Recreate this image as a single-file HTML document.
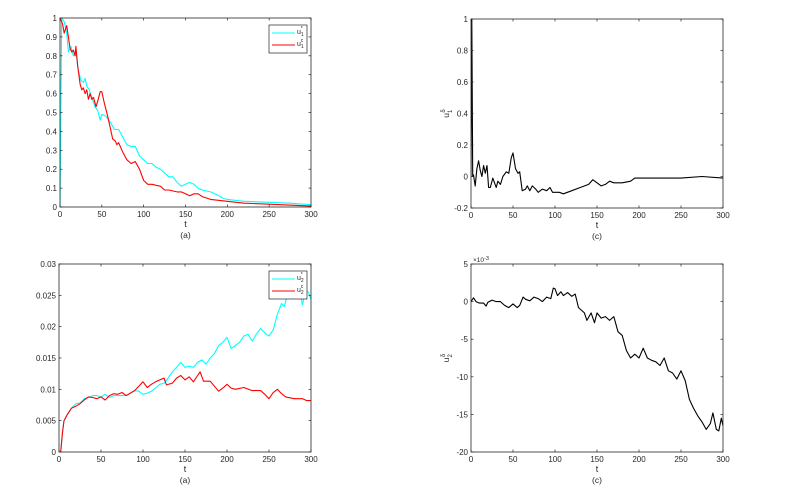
<!DOCTYPE html>
<html><head><meta charset="utf-8"><style>
body{margin:0;background:#fff;}
svg{display:block;font-family:"Liberation Sans",sans-serif;}
</style></head><body>
<svg id="c" width="792" height="499" viewBox="0 0 792 499"></svg>
<script>
const tTicks=[0,50,100,150,200,250,300];
const u1StarT=[0,1,2,5,8,10,13,16,19,22,25,28,30,32,35,38,42,45,48,50,55,60,65,70,75,80,85,90,95,100,105,110,115,120,125,130,135,140,145,150,155,160,165,170,180,190,195,200,220,250,275,300];
const u1StarV=[0,0.5,1,0.98,0.92,0.82,0.85,0.8,0.82,0.72,0.67,0.66,0.68,0.64,0.62,0.58,0.53,0.51,0.46,0.49,0.48,0.45,0.41,0.41,0.37,0.33,0.32,0.32,0.27,0.25,0.23,0.23,0.21,0.2,0.18,0.16,0.16,0.13,0.11,0.12,0.13,0.12,0.1,0.09,0.08,0.06,0.045,0.04,0.03,0.025,0.02,0.012];
const u1cT=[0,3,5,8,10,12,14,16,18,19,21,24,26,28,30,32,34,36,38,40,43,45,48,50,53,57,60,63,66,68,70,75,80,85,90,95,100,105,110,115,120,125,130,140,145,150,155,160,165,170,180,200,220,250,300];
const u1cV=[1,0.97,0.92,0.96,0.9,0.84,0.82,0.83,0.8,0.85,0.75,0.65,0.62,0.63,0.6,0.62,0.57,0.6,0.57,0.58,0.53,0.56,0.61,0.61,0.55,0.48,0.42,0.36,0.35,0.33,0.34,0.29,0.25,0.23,0.24,0.2,0.14,0.12,0.12,0.115,0.11,0.09,0.09,0.08,0.08,0.07,0.06,0.07,0.07,0.055,0.04,0.03,0.02,0.015,0.005];
const u2StarT=[0,2,4,6,10,15,20,25,30,35,40,45,50,55,60,65,70,80,90,95,100,105,110,115,120,125,130,135,140,145,150,155,160,165,170,175,180,185,190,195,200,205,210,215,220,225,230,235,240,245,250,255,260,265,268,272,275,280,285,290,293,297,300];
const u2StarV=[0,0,0.003,0.005,0.006,0.007,0.0077,0.0078,0.0085,0.0087,0.009,0.009,0.0088,0.0092,0.0087,0.009,0.009,0.009,0.0098,0.0097,0.0092,0.0094,0.0097,0.0102,0.0108,0.011,0.0118,0.0128,0.0135,0.0143,0.0135,0.0137,0.0135,0.0143,0.0147,0.014,0.015,0.0157,0.017,0.0175,0.0183,0.0165,0.017,0.0175,0.0185,0.0188,0.0177,0.0188,0.0197,0.019,0.0185,0.0195,0.022,0.0237,0.0232,0.025,0.0262,0.0255,0.0262,0.0235,0.0258,0.0255,0.0243];
const u2cT=[0,2,4,6,10,15,20,25,30,35,40,45,50,55,60,65,70,75,80,90,95,100,105,110,115,120,125,128,135,140,145,150,155,160,165,168,172,180,185,190,195,200,205,210,220,230,240,245,250,255,260,265,270,280,290,295,300];
const u2cV=[0,0,0.003,0.005,0.006,0.007,0.0073,0.0077,0.0083,0.0088,0.0087,0.0085,0.0088,0.0083,0.009,0.0093,0.0092,0.0095,0.009,0.0098,0.0105,0.0112,0.0103,0.0108,0.0112,0.0115,0.0118,0.0107,0.011,0.0118,0.0122,0.0115,0.012,0.0112,0.0122,0.0128,0.0113,0.0113,0.0105,0.0097,0.0102,0.0108,0.0102,0.01,0.0103,0.0098,0.0098,0.0092,0.0085,0.0095,0.01,0.0093,0.0088,0.0085,0.0085,0.0082,0.0082];
const u1dT=[0,1,2,3,5,7,9,11,13,15,17,19,21,23,26,28,30,32,35,38,42,45,48,50,53,56,58,61,65,67,70,73,77,80,85,90,94,97,105,110,120,130,140,145,150,155,160,165,170,180,190,195,220,250,275,300];
const u1dV=[0,1,0,0.01,-0.06,0.05,0.1,0.04,0,0.07,0.02,0.07,-0.07,-0.07,-0.01,-0.04,-0.07,-0.03,-0.05,0,0.03,0.02,0.12,0.15,0.05,0.02,0.03,-0.09,-0.08,-0.06,-0.09,-0.06,-0.08,-0.1,-0.08,-0.09,-0.07,-0.1,-0.1,-0.11,-0.09,-0.07,-0.05,-0.02,-0.04,-0.06,-0.05,-0.03,-0.04,-0.04,-0.03,-0.01,-0.01,-0.01,0,-0.01];
const u2dT=[0,3,6,10,15,18,20,25,30,35,40,45,50,55,58,62,65,70,75,80,85,90,95,98,100,103,107,110,115,120,124,128,132,135,138,143,147,150,155,160,165,170,175,180,185,190,195,200,205,210,215,220,225,230,235,240,245,250,255,260,265,270,275,280,285,288,292,295,298,300];
const u2dV=[0,0.5,0,-0.2,-0.2,-0.6,-0.1,0.2,0,0,-0.5,-0.8,-0.3,-0.8,-0.5,0.6,0.3,0.1,0.6,0.4,0,0.6,0.4,1.8,1.7,0.8,1.3,0.8,1.2,0.7,1.0,-0.8,-1.2,-1.5,-2.5,-1.5,-2.8,-1.5,-2.2,-2.0,-2.5,-2.0,-4,-4.5,-6.5,-7.5,-7.0,-7.5,-6.2,-7.5,-7.8,-8,-8.5,-7.5,-9.2,-9.5,-10.3,-9.2,-10.5,-13,-14.2,-15.2,-16,-17,-16.2,-14.8,-17,-17.2,-15.5,-16.5];
const y1Ticks=[0,0.1,0.2,0.3,0.4,0.5,0.6,0.7,0.8,0.9,1];
const y1Labels=["0","0.1","0.2","0.3","0.4","0.5","0.6","0.7","0.8","0.9","1"];
const y2Ticks=[0,0.005,0.01,0.015,0.02,0.025,0.03];
const y2Labels=["0","0.005","0.01","0.015","0.02","0.025","0.03"];
const y3Ticks=[-0.2,0,0.2,0.4,0.6,0.8,1];
const y3Labels=["-0.2","0","0.2","0.4","0.6","0.8","1"];
const y4Ticks=[-20,-15,-10,-5,0,5];
const y4Labels=["-20","-15","-10","-5","0","5"];

const NS="http://www.w3.org/2000/svg";
const svg=document.getElementById('c');
function mk(tag,attrs,parent,text){const e=document.createElementNS(NS,tag);for(const k in attrs)e.setAttribute(k,attrs[k]);if(text!==undefined)e.textContent=text;(parent||svg).appendChild(e);return e;}

function panel(id,box,ymin,ymax,yt,yl,series,opts){
  const g=mk('g',{});
  
  
  const [x0,y0,x1,y1]=box;
  const sx=t=>x0+(t-0)/300*(x1-x0);
  const sy=v=>y1-(v-ymin)/(ymax-ymin)*(y1-y0);
  const r=mk('rect',{x:x0,y:y0,width:x1-x0,height:y1-y0,fill:'#fff',stroke:'none'},g);
  
  
  const cp='cp'+id;
  const d=mk('defs',{},g);const c=mk('clipPath',{id:cp},d);mk('rect',{x:x0,y:y0,width:x1-x0,height:y1-y0},c);
  series.forEach(s=>{
    const pts=s.t.map((t,i)=>sx(t).toFixed(1)+','+sy(s.v[i]).toFixed(1)).join(' ');
    const p=mk('polyline',{points:pts,fill:'none',stroke:s.color,'stroke-width':1.1,'stroke-linejoin':'round','clip-path':'url(#'+cp+')'},g);
    
    
  });
  mk('rect',{x:x0,y:y0,width:x1-x0,height:y1-y0,fill:'none',stroke:'#262626','stroke-width':0.8},g);
  const xa=mk('g',{},g);
  
  
  tTicks.forEach(t=>{
    const x=sx(t);
    mk('line',{x1:x,x2:x,y1:y1,y2:y1-2.5,stroke:'#262626','stroke-width':0.7},xa);
    mk('line',{x1:x,x2:x,y1:y0,y2:y0+2.5,stroke:'#262626','stroke-width':0.7},xa);
    mk('text',{x:x,y:y1+10,'font-size':8,'text-anchor':'middle',fill:'#262626'},xa,String(t));
  });
  const xt=mk('text',{x:(x0+x1)/2,y:y1+20,'font-size':9,'text-anchor':'middle',fill:'#262626'},g,'t');
  
  
  const cap=mk('text',{x:(x0+x1)/2,y:y1+31,'font-size':8.5,'text-anchor':'middle',fill:'#262626'},g,opts.caption);
  
  
  const ya=mk('g',{},g);
  
  
  yt.forEach((v,i)=>{
    const y=sy(v);
    mk('line',{x1:x0,x2:x0+2.5,y1:y,y2:y,stroke:'#262626','stroke-width':0.7},ya);
    mk('line',{x1:x1,x2:x1-2.5,y1:y,y2:y,stroke:'#262626','stroke-width':0.7},ya);
    mk('text',{x:x0-3,y:y+3,'font-size':8,'text-anchor':'end',fill:'#262626'},ya,yl[i]);
  });
  if(opts.ylabel){
    const yx=x0-22,yy=(y0+y1)/2;
    const t=mk('text',{x:0,y:0,'font-size':8.5,fill:'#262626',transform:`translate(${yx},${yy}) rotate(-90)`,'text-anchor':'middle'},g);
    
    
    mk('tspan',{},t,'u');
    mk('tspan',{'font-size':6,dy:3},t,opts.ylabel);
    mk('tspan',{'font-size':6,dy:-7,dx:-3},t,'δ');
  }
  if(opts.exp){
    const e=mk('text',{x:x0+2,y:y0-2,'font-size':6.5,fill:'#262626'},g,'×10');
    
    
    mk('tspan',{'font-size':5.5,dy:-2},e,'-3');
  }
  if(opts.legend){
    const lg=mk('g',{},g);
    
    
    const lx=x1-42,ly=y0+7;
    mk('rect',{x:lx,y:ly,width:38,height:28,fill:'#fff',stroke:'#262626','stroke-width':0.7},lg);
    opts.legend.forEach((L,i)=>{
      const yy=ly+8+i*12;
      mk('line',{x1:lx+3,x2:lx+26,y1:yy,y2:yy,stroke:L.color,'stroke-width':1.1},lg);
      const tx=mk('text',{x:lx+28,y:yy+1,'font-size':7,fill:'#262626'},lg,'u');
      mk('tspan',{'font-size':5,dy:2},tx,L.sub);
      mk('tspan',{'font-size':5,dy:-6,dx:-3},tx,L.sup);
    });
  }
}
panel('panel-u1',[60,18,311,207],0,1,y1Ticks,y1Labels,
  [{t:u1StarT,v:u1StarV,color:'#00ffff',name:'u1-star-line'},{t:u1cT,v:u1cV,color:'#ff0000',name:'u1-c-line'}],
  {caption:'(a)',legend:[{color:'#00ffff',sub:'1',sup:'*'},{color:'#ff0000',sub:'1',sup:'c'}]});
panel('panel-u2',[59,264,311,452],0,0.03,y2Ticks,y2Labels,
  [{t:u2StarT,v:u2StarV,color:'#00ffff',name:'u2-star-line'},{t:u2cT,v:u2cV,color:'#ff0000',name:'u2-c-line'}],
  {caption:'(a)',legend:[{color:'#00ffff',sub:'2',sup:'*'},{color:'#ff0000',sub:'2',sup:'c'}]});
panel('panel-u1-delta',[471,19,723,208],-0.2,1,y3Ticks,y3Labels,
  [{t:u1dT,v:u1dV,color:'#000',name:'u1-delta-line'}],{caption:'(c)',ylabel:'1'});
panel('panel-u2-delta',[471,264,723,452],-20,5,y4Ticks,y4Labels,
  [{t:u2dT,v:u2dV,color:'#000',name:'u2-delta-line'}],{caption:'(c)',ylabel:'2',exp:true});
</script>
</body></html>
